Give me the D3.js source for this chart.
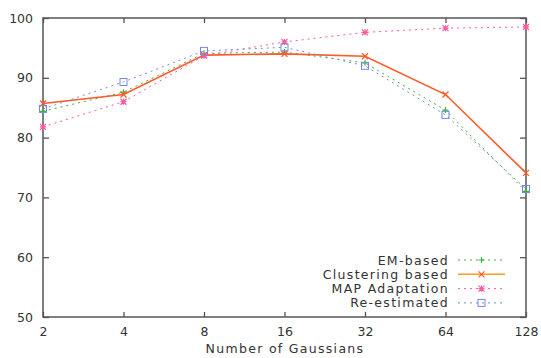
<!DOCTYPE html>
<html><head><meta charset="utf-8">
<script src="https://cdn.jsdelivr.net/npm/d3@7"></script>
<style>body{margin:0;background:#fff;} svg{display:block;} text{font-family:"DejaVu Sans",sans-serif;}</style>
</head><body><svg id="c" width="541" height="358"></svg>
<script>
const gaussians = [2, 4, 8, 16, 32, 64, 128];
const yTicks = [50, 60, 70, 80, 90, 100];
const emBased = [84.4, 87.6, 94.1, 94.3, 92.5, 84.6, 71.0];
const clustering = [85.7, 87.2, 93.8, 94.0, 93.6, 87.2, 74.1];
const mapAdapt = [81.8, 86.0, 93.7, 96.0, 97.6, 98.3, 98.5];
const reEstimated = [84.8, 89.3, 94.5, 95.1, 92.0, 83.8, 71.4];
const seriesNames = ["EM-based", "Clustering based", "MAP Adaptation", "Re-estimated"];

const svg = d3.select("#c");
const L = 43, R = 526, T = 18, B = 317;
const x = d3.scaleLog().base(2).domain([2, 128]).range([L, R]);
const y = d3.scaleLinear().domain([50, 100]).range([B, T]);

const series = [
  {name: seriesNames[0], vals: emBased, color: "#3cb43c", dash: "2,4", mark: "plus", lw: 1},
  {name: seriesNames[1], vals: clustering, color: "#ff5a28", dash: null, mark: "cross", lw: 1.6},
  {name: seriesNames[2], vals: mapAdapt, color: "#ff5aa0", dash: "2,4", mark: "star", lw: 1},
  {name: seriesNames[3], vals: reEstimated, color: "#7888e0", dash: "2,4", mark: "square", lw: 1}
];

const fr = "#555";
const FONT = '"DejaVu Sans",sans-serif';
svg.append("rect").attr("x", L).attr("y", T).attr("width", R - L).attr("height", B - T)
  .attr("fill", "none").attr("stroke", fr).attr("stroke-width", 1.5);

const xb = svg.append("g").attr("transform", `translate(0,${B})`)
  .call(d3.axisBottom(x).tickValues(gaussians).tickFormat(d3.format("d")).tickSize(-5).tickPadding(10));
const xt = svg.append("g").attr("transform", `translate(0,${T})`)
  .call(d3.axisTop(x).tickValues(gaussians).tickFormat("").tickSize(-5));
const yl = svg.append("g").attr("transform", `translate(${L},0)`)
  .call(d3.axisLeft(y).tickValues(yTicks).tickSize(-6).tickPadding(10));
const yr = svg.append("g").attr("transform", `translate(${R},0)`)
  .call(d3.axisRight(y).tickValues(yTicks).tickFormat("").tickSize(-6));
[xb, xt, yl, yr].forEach(g => {
  g.select(".domain").remove();
  g.selectAll("line").attr("stroke", fr).attr("stroke-width", 1.3);
  g.selectAll("text").attr("fill", "#333").style("font-size", "12.5px").style("font-family", FONT);
});

svg.append("text").attr("x", 285).attr("y", 353).attr("text-anchor", "middle")
  .attr("fill", "#333").style("font-size", "12.5px").style("letter-spacing", "1.3px").text("Number of Gaussians");

function marker(g, kind, cx, cy, color) {
  const s = 3;
  if (kind === "plus") {
    g.append("path").attr("d", `M${cx-s},${cy}H${cx+s}M${cx},${cy-s}V${cy+s}`).attr("stroke", color).attr("stroke-width", 1.2);
  } else if (kind === "cross") {
    g.append("path").attr("d", `M${cx-s},${cy-s}L${cx+s},${cy+s}M${cx-s},${cy+s}L${cx+s},${cy-s}`).attr("stroke", color).attr("stroke-width", 1.2);
  } else if (kind === "star") {
    g.append("path").attr("d", `M${cx-s},${cy}H${cx+s}M${cx},${cy-s}V${cy+s}M${cx-s},${cy-s}L${cx+s},${cy+s}M${cx-s},${cy+s}L${cx+s},${cy-s}`).attr("stroke", color).attr("stroke-width", 1.2);
  } else {
    g.append("rect").attr("x", cx - s - 0.5).attr("y", cy - s - 0.5).attr("width", 2*s + 1).attr("height", 2*s + 1)
      .attr("fill", "none").attr("stroke", color).attr("stroke-width", 1);
  }
}

const line = d3.line().x((d, i) => x(gaussians[i])).y(d => y(d));
series.forEach(s => {
  const g = svg.append("g");
  g.append("path").attr("d", line(s.vals)).attr("fill", "none").attr("stroke", s.color)
    .attr("stroke-width", s.lw).attr("stroke-dasharray", s.dash);
  s.vals.forEach((v, i) => marker(g, s.mark, x(gaussians[i]), y(v), s.color));
});

const ly0 = 260, ldy = 14.3;
series.forEach((s, i) => {
  const yy = ly0 + i * ldy;
  svg.append("rect").attr("x", 315).attr("y", yy - 7).attr("width", 198).attr("height", 14).attr("fill", "#fff");
});
series.forEach((s, i) => {
  const yy = ly0 + i * ldy;
  svg.append("text").attr("x", 449).attr("y", yy + 4.5).attr("text-anchor", "end")
    .attr("fill", "#333").style("font-size", "12.5px").style("letter-spacing", "1.3px").text(s.name);
  svg.append("line").attr("x1", 458).attr("x2", 505).attr("y1", yy).attr("y2", yy)
    .attr("stroke", i === 1 ? "#f0a020" : s.color).attr("stroke-width", s.lw).attr("stroke-dasharray", s.dash);
  marker(svg, s.mark, 481.5, yy, s.color);
});
</script></body></html>
